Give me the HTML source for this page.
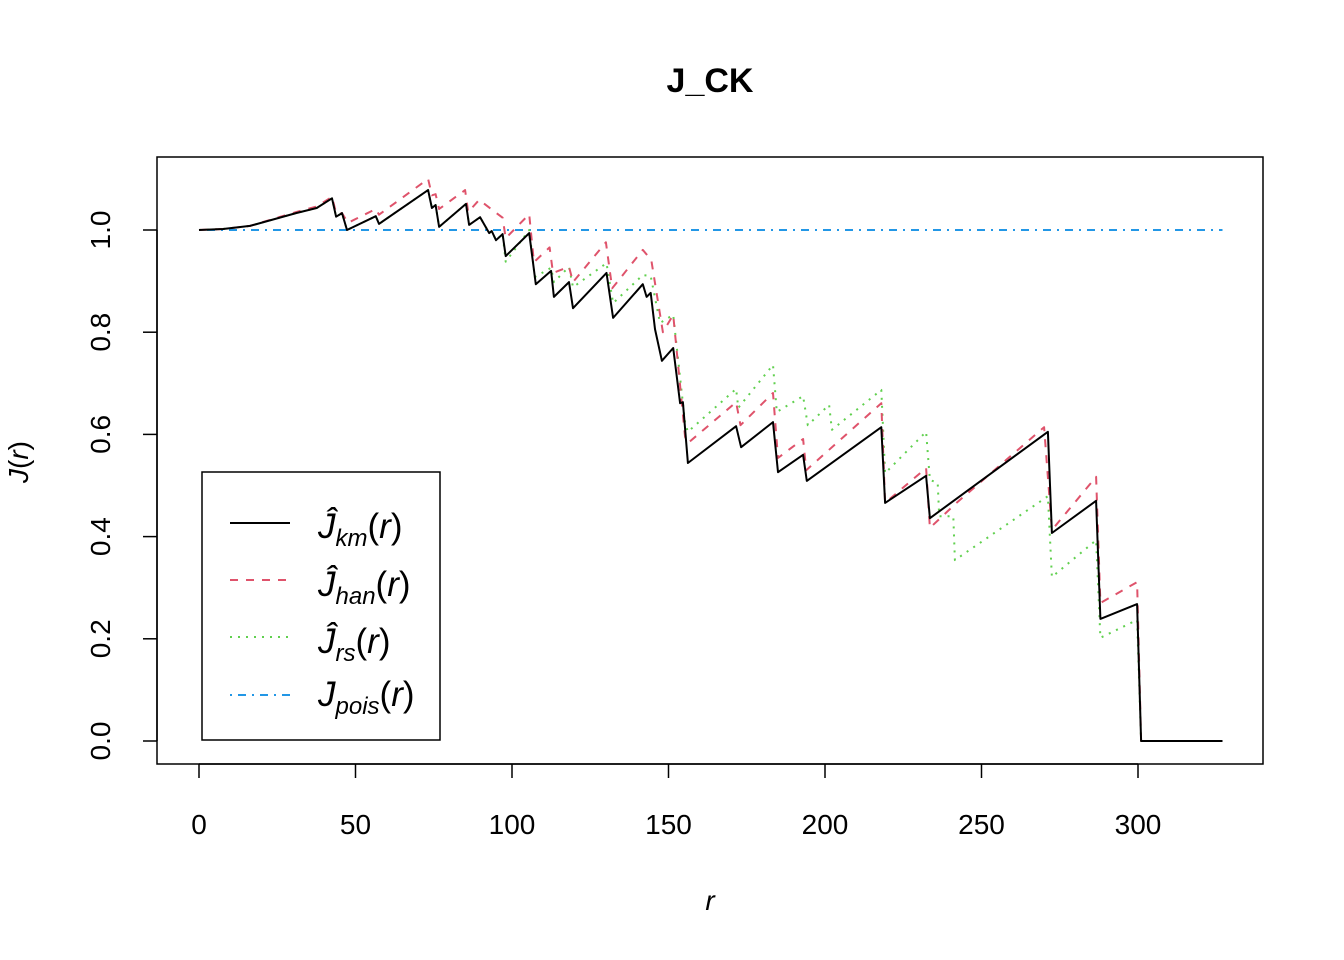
<!DOCTYPE html>
<html><head><meta charset="utf-8"><style>
body{margin:0;background:#fff}
svg{display:block;font-family:"Liberation Sans",sans-serif}
</style></head><body>
<svg id="chart" width="1344" height="960" xmlns="http://www.w3.org/2000/svg">
<text x="710" y="92" font-size="34" font-weight="bold" text-anchor="middle">J_CK</text>
<rect x="157" y="157" width="1106" height="607" fill="none" stroke="#000" stroke-width="1.5"/>
<g id="xaxis"></g>
<g id="yaxis"></g>
<text x="710" y="910" font-size="28" font-style="italic" text-anchor="middle">r</text>
<text transform="translate(28,462) rotate(-90)" font-size="28" text-anchor="middle"><tspan font-style="italic">J</tspan>(<tspan font-style="italic">r</tspan>)</text>
<g id="series"></g>
<g>
<rect x="202" y="472" width="238" height="268" fill="#fff" stroke="#000" stroke-width="1.5"/>
<line x1="230" y1="523" x2="290" y2="523" stroke="#000" stroke-width="2"/>
<line x1="230" y1="580" x2="290" y2="580" stroke="#DF536B" stroke-width="2" stroke-dasharray="8,8"/>
<line x1="230" y1="637" x2="290" y2="637" stroke="#61D04F" stroke-width="2" stroke-dasharray="2,6"/>
<line x1="230" y1="695" x2="290" y2="695" stroke="#2297E6" stroke-width="2" stroke-dasharray="2,6,8,6"/>
<g font-size="35" font-style="italic">
<text x="318" y="538">Ĵ<tspan font-size="24" dy="8">km</tspan><tspan font-style="normal" dy="-8">(</tspan>r<tspan font-style="normal">)</tspan></text>
<text x="318" y="596">Ĵ<tspan font-size="24" dy="8">han</tspan><tspan font-style="normal" dy="-8">(</tspan>r<tspan font-style="normal">)</tspan></text>
<text x="318" y="653">Ĵ<tspan font-size="24" dy="8">rs</tspan><tspan font-style="normal" dy="-8">(</tspan>r<tspan font-style="normal">)</tspan></text>
<text x="318" y="706">J<tspan font-size="24" dy="8">pois</tspan><tspan font-style="normal" dy="-8">(</tspan>r<tspan font-style="normal">)</tspan></text>
</g>
</g>
</svg>
<script>
const xTicks=[0,50,100,150,200,250,300];
const yTicks=[0,0.2,0.4,0.6,0.8,1.0];
const yTickLabels=["0.0","0.2","0.4","0.6","0.8","1.0"];
const kmR=[0,7.7,16.3,31,37.6,42.5,43.8,45.7,47.3,56.5,57.5,73.2,74.4,75.6,76.7,85.3,86.3,89.8,92.7,93.5,94.9,97,98,105.5,107.6,112.5,113.4,118.2,119.5,130.2,132.3,141.8,143,144.3,145.7,147.9,151.5,153.7,154.6,156.2,171.6,173.2,183.4,185,193,194.2,218,219.2,232.3,233.5,271.2,272.5,286.6,288,299.7,301,327];
const kmJ=[1,1.002,1.008,1.033,1.043,1.062,1.026,1.033,1.0,1.027,1.012,1.078,1.043,1.049,1.006,1.051,1.01,1.025,0.994,0.998,0.98,0.992,0.949,0.994,0.894,0.92,0.869,0.898,0.847,0.916,0.828,0.894,0.869,0.877,0.806,0.744,0.769,0.661,0.663,0.544,0.616,0.575,0.624,0.526,0.56,0.509,0.614,0.466,0.519,0.436,0.605,0.407,0.47,0.239,0.268,0,0];
const hanR=[0,7.7,16.3,31,37.6,42.5,43.8,45.7,47.6,56.5,57.5,73.2,74.4,75.6,76.7,85,86,89.5,97,98,105.5,107,112,113.1,118.2,119.5,130,132,141.8,144.5,148.2,151.5,155.3,156.2,171.6,173,183.4,185,193,194,218,219.2,232.3,233.5,242,270,272.5,286.6,288,299.7,301,327];
const hanJ=[1,1.002,1.008,1.035,1.046,1.065,1.033,1.033,1.014,1.041,1.03,1.1,1.068,1.07,1.041,1.078,1.035,1.059,1.024,0.984,1.031,0.937,0.966,0.916,0.928,0.898,0.976,0.886,0.961,0.941,0.8,0.834,0.595,0.583,0.663,0.618,0.681,0.554,0.591,0.53,0.661,0.466,0.534,0.417,0.466,0.614,0.413,0.517,0.27,0.311,0,0];
const rsR=[0,7.7,16.3,31,37.6,42.5,43.8,45.7,47.3,56.5,57.5,73.2,74.4,75.6,76.7,85.3,86.3,89.8,92.7,93.5,94.9,97,98,105.5,107.3,112.5,113.4,118.2,119.5,130.2,132.3,141.8,144.3,147.3,151.5,155.3,156.2,171.6,172.3,183.4,184.6,193,194.5,201.3,202.2,218,219.2,232.3,233.5,236,236.5,241,241.5,271.2,272.5,286.6,288,299.7,301,327];
const rsJ=[1,1.002,1.008,1.033,1.043,1.062,1.026,1.033,1.0,1.027,1.012,1.078,1.043,1.049,1.006,1.051,1.01,1.025,0.994,0.998,0.98,0.992,0.938,1.0,0.908,0.926,0.898,0.928,0.888,0.935,0.857,0.912,0.91,0.818,0.834,0.622,0.605,0.689,0.652,0.736,0.644,0.675,0.618,0.658,0.609,0.687,0.524,0.605,0.511,0.505,0.44,0.44,0.354,0.479,0.321,0.393,0.202,0.237,0,0];
const poisR=[0,327];
const poisJ=[1,1];
const X=r=>199+r*(1138-199)/300;
const Y=j=>741-j*511;
const NS="http://www.w3.org/2000/svg";
function mk(t,a,p){const e=document.createElementNS(NS,t);for(const k in a)e.setAttribute(k,a[k]);p.appendChild(e);return e;}
const xa=document.getElementById('xaxis'),ya=document.getElementById('yaxis'),sg=document.getElementById('series');
let l=mk('line',{x1:X(0),x2:X(300),y1:764,y2:764,stroke:'#000','stroke-width':1.5},xa);


xTicks.forEach(v=>{
 const t=mk('line',{x1:X(v),x2:X(v),y1:764,y2:778,stroke:'#000','stroke-width':1.5},xa);
 
 
 const tx=mk('text',{x:X(v),y:834,'font-size':28,'text-anchor':'middle'},xa);
 tx.textContent=v;
 
 
});
l=mk('line',{x1:157,x2:157,y1:Y(0),y2:Y(1),stroke:'#000','stroke-width':1.5},ya);


yTicks.forEach((v,i)=>{
 const t=mk('line',{x1:143,x2:157,y1:Y(v),y2:Y(v),stroke:'#000','stroke-width':1.5},ya);
 
 
 const tx=mk('text',{transform:`translate(110,${Y(v)}) rotate(-90)`,'font-size':28,'text-anchor':'middle'},ya);
 tx.textContent=yTickLabels[i];
 
 
});
function series(R,J,color,dash,name){
 const d=R.map((r,i)=>(i?'L':'M')+X(r).toFixed(1)+','+Y(J[i]).toFixed(1)).join('');
 const p=mk('path',{d:d,fill:'none',stroke:color,'stroke-width':2,'stroke-dasharray':dash,'stroke-linejoin':'round'},sg);
 
 
}
series(poisR,poisJ,'#2297E6','2,6,8,6','pois-line');
series(rsR,rsJ,'#61D04F','2,6','rs-line');
series(hanR,hanJ,'#DF536B','8,8','han-line');
series(kmR,kmJ,'#000','none','km-line');
</script>
</body></html>
